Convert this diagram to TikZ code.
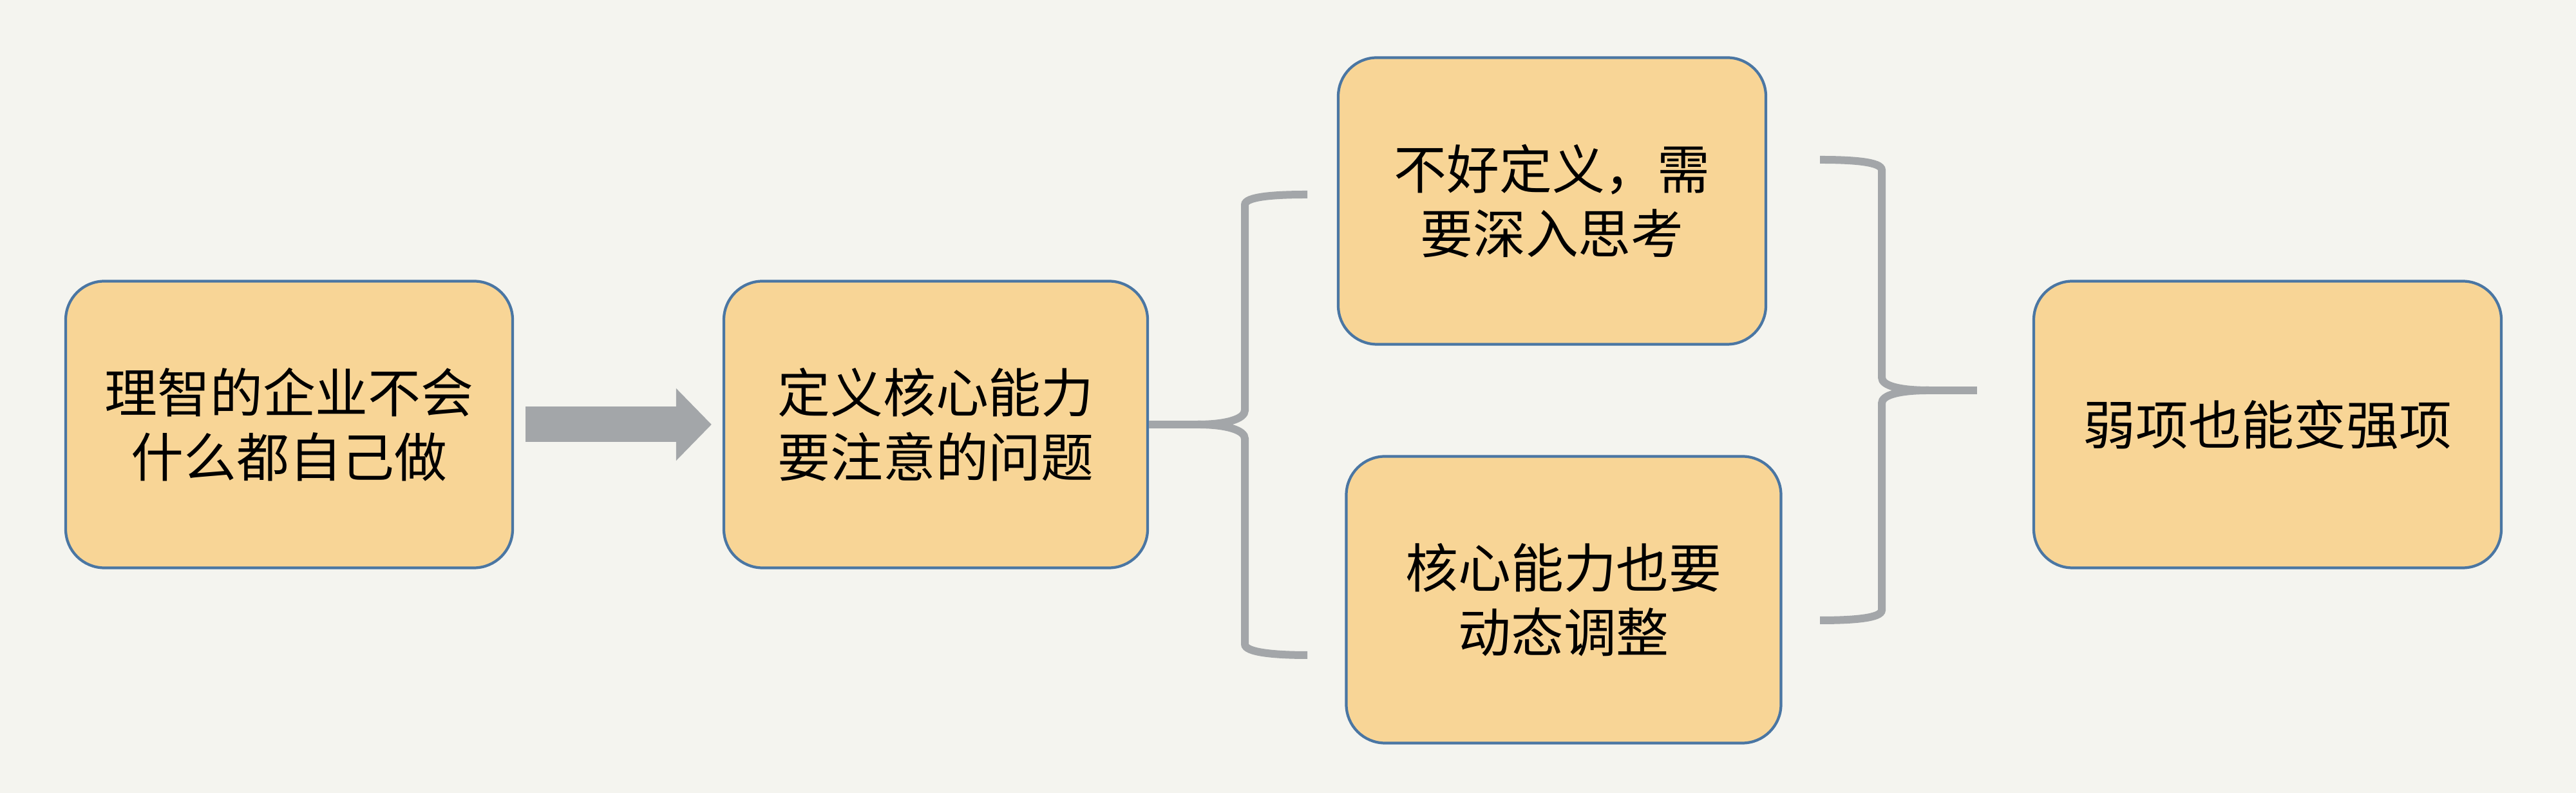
\documentclass[tikz,border=0pt]{standalone}
\usepackage{fontspec}
\setmainfont{Noto Sans CJK SC}
\usepackage{tikz}
\usetikzlibrary{arrows.meta}
\usepackage[rgb]{xcolor}

\definecolor{bgcol}{HTML}{F4F4EF}
\definecolor{boxfill}{HTML}{F8D596}
\definecolor{boxline}{HTML}{4A76A3}
\definecolor{bracegray}{HTML}{A3A6A9}

\begin{document}
\begin{tikzpicture}[
  topic/.style={draw=boxline, line width=1.2pt, fill=boxfill, rounded corners=0.6cm,
    minimum height=4.45cm, align=center, inner sep=0pt,
    font=\fontsize{23.3pt}{28.5pt}\selectfont},
  bigarrow/.style={draw=bracegray, line width=0.55cm,
    -{Triangle[length=0.55cm, width=1.09cm]}, shorten <=0.18cm, shorten >=0.17cm},
  brace/.style={draw=bracegray, line width=0.12cm}
]
\fill[bgcol] (0,0) rectangle (40,12.31);
\useasboundingbox (0,0) rectangle (40,12.31);

\node[topic, minimum width=6.94cm] (box1) at (4.49,5.72) {理智的企业不会\\什么都自己做};
\node[topic, minimum width=6.58cm] (box2) at (14.53,5.72) {定义核心能力\\要注意的问题};
\node[topic, minimum width=6.64cm] (box3) at (24.10,9.19) {不好定义，需\\要深入思考};
\node[topic, minimum width=6.75cm] (box4) at (24.28,3.00) {核心能力也要\\动态调整};
\node[topic, minimum width=7.26cm] (box5) at (35.21,5.72) {弱项也能变强项};

\draw[bigarrow] (box1) -- (box2);

\coordinate (b1mid) at (18.60,5.72);
\coordinate (b1top) at (20.30,9.29);
\coordinate (b1bot) at (20.30,2.14);
\draw[brace] (box2.east) -- (b1mid);
\draw[brace] (b1mid) .. controls (19.05,5.72) and (19.33,5.81) .. (19.33,5.94)
  -- (19.33,9.13) .. controls (19.33,9.26) and (19.80,9.29) .. (b1top);
\draw[brace] (b1mid) .. controls (19.05,5.72) and (19.33,5.63) .. (19.33,5.50)
  -- (19.33,2.31) .. controls (19.33,2.18) and (19.80,2.14) .. (b1bot);

\coordinate (b2top) at (28.26,9.83);
\coordinate (b2bot) at (28.26,2.68);
\coordinate (b2mid) at (29.95,6.25);
\coordinate (b2tip) at (30.70,6.25);
\draw[brace] (b2top) .. controls (28.76,9.83) and (29.22,9.80) .. (29.22,9.67)
  -- (29.22,6.45) .. controls (29.22,6.32) and (29.50,6.25) .. (b2mid);
\draw[brace] (b2bot) .. controls (28.76,2.68) and (29.22,2.71) .. (29.22,2.84)
  -- (29.22,6.05) .. controls (29.22,6.18) and (29.50,6.25) .. (b2mid);
\draw[brace] (b2mid) -- (b2tip);
\end{tikzpicture}
\end{document}
